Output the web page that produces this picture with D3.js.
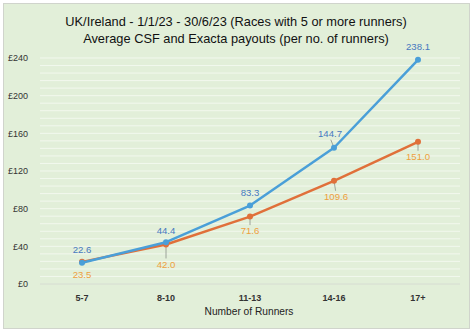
<!DOCTYPE html>
<html><head><meta charset="utf-8">
<script src="https://cdn.jsdelivr.net/npm/d3@7"></script>
<style>body{margin:0;background:#fff;}svg{display:block;font-family:"Liberation Sans",Arial,sans-serif;}</style>
</head><body><svg id="c" width="474" height="334"></svg>
<script>
const categories = ["5-7","8-10","11-13","14-16","17+"];
const csf = [22.6, 44.4, 83.3, 144.7, 238.1];
const exacta = [23.5, 42.0, 71.6, 109.6, 151.0];
const yTicks = [0,40,80,120,160,200,240];
const titleLines = ["UK/Ireland - 1/1/23 - 30/6/23 (Races with 5 or more runners)","Average CSF and Exacta payouts (per no. of runners)"];
const xTitle = "Number of Runners";

// label offsets (px) relative to points
const csfOff = [[0,-13],[0,-12],[0,-12.5],[-4,-14],[0,-13]];
const exOff = [[0,13],[0,20],[0,14.5],[2,16],[0,15]];

const svg = d3.select("#c");
svg.append("rect").attr("x",3.5).attr("y",3.5).attr("width",466).attr("height",325)
  .attr("fill","#e2efd9").attr("stroke","#d0d4cc").attr("stroke-width",1);

const x = d3.scaleBand().domain(categories).range([40,460]);
const y = d3.scaleLinear().domain([0,240]).range([284,58]);

// minor gridlines
const grid = svg.append("g");
grid.selectAll("line").data(d3.range(8,241,8)).join("line")
  .attr("x1",40).attr("x2",460).attr("y1",d=>y(d)).attr("y2",d=>y(d))
  .attr("stroke","#f2f8ee").attr("stroke-width",1);
// baseline
svg.append("line").attr("x1",40).attr("x2",460).attr("y1",y(0)).attr("y2",y(0)).attr("stroke","#d6dcd2");

// y axis
const ya = svg.append("g").attr("transform","translate(31,0)").call(d3.axisLeft(y).tickValues(yTicks).tickSize(0).tickFormat(d=>"£"+d));
ya.select(".domain").remove();
ya.selectAll("text").attr("font-size",9).attr("fill","#333").attr("font-family","Liberation Sans,Arial,sans-serif").attr("dx",0);

// x axis
const xa = svg.append("g").attr("transform","translate(0,292)").call(d3.axisBottom(x).tickSize(0));
xa.select(".domain").remove();
xa.selectAll("text").attr("font-size",9).attr("fill","#333").attr("font-weight","bold").attr("font-family","Liberation Sans,Arial,sans-serif");

svg.append("text").attr("x",249).attr("y",315).attr("text-anchor","middle").attr("font-size",10.2).attr("fill","#222").text(xTitle);

// titles
svg.selectAll("text.t").data(titleLines).join("text").attr("class","t")
  .attr("x",236).attr("y",(d,i)=>26+i*17).attr("text-anchor","middle").attr("font-size",12.8).attr("fill","#111").text(d=>d);

const cx = d=>x(d)+x.bandwidth()/2;
const line = d3.line().x((d,i)=>cx(categories[i])).y(d=>y(d));

function series(vals, color, labelColor, offs){
  const g = svg.append("g");
  // leader lines
  vals.forEach((v,i)=>{
    const px = cx(categories[i]), py = y(v);
    const [dx,dy] = offs[i];
    if (Math.abs(dy) > 13.5){
      const sgn = Math.sign(dy);
      g.append("line").attr("x1",px).attr("y1",py).attr("x2",px+dx*0.8).attr("y2",py+dy-sgn*6)
        .attr("stroke","#8a8f88").attr("stroke-width",0.8);
    }
  });
  g.append("path").attr("d",line(vals)).attr("fill","none").attr("stroke",color).attr("stroke-width",2.5).attr("stroke-linejoin","round");
  g.selectAll("circle").data(vals).join("circle").attr("cx",(d,i)=>cx(categories[i])).attr("cy",d=>y(d)).attr("r",3).attr("fill",color);
  g.selectAll("text").data(vals).join("text")
    .attr("x",(d,i)=>cx(categories[i])+offs[i][0]).attr("y",(d,i)=>y(d)+offs[i][1])
    .attr("dy","0.35em").attr("text-anchor","middle").attr("font-size",9.6).attr("fill",labelColor)
    .text(d=>d.toFixed(1));
}
series(exacta, "#e0703a", "#eea03e", exOff);
series(csf, "#4a9fd8", "#4679c0", csfOff);
</script></body></html>
